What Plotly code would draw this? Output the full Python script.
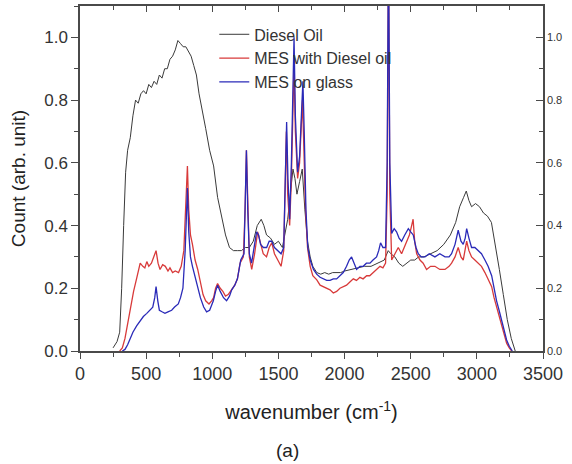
import plotly.graph_objects as go

# ---------------- data ----------------
diesel_wn = [250, 280, 300, 315, 330, 345, 360, 380, 400, 420, 440, 460, 480, 500, 520, 540, 560, 580, 600, 620,
             640, 660, 680, 700, 720, 740, 760, 780, 800, 820, 840, 860, 880, 900, 920, 950, 980, 1010, 1040, 1070,
             1100, 1130, 1160, 1190, 1220, 1250, 1280, 1310, 1340, 1370, 1390, 1410, 1440, 1470, 1500, 1530, 1555,
             1570, 1590, 1610, 1625, 1640, 1660, 1680, 1700, 1720, 1740, 1760, 1790, 1820, 1850, 1880, 1910, 1940,
             1970, 2000, 2050, 2100, 2150, 2200, 2250, 2300, 2330, 2350, 2380, 2410, 2440, 2470, 2500, 2530, 2560,
             2600, 2650, 2700, 2750, 2800, 2840, 2870, 2900, 2920, 2940, 2960, 2990, 3020, 3050, 3080, 3110, 3140,
             3170, 3200, 3230, 3260, 3290]
diesel_val = [0.01, 0.03, 0.06, 0.2, 0.4, 0.57, 0.64, 0.68, 0.75, 0.8, 0.79, 0.82, 0.83, 0.82, 0.85, 0.84, 0.86, 0.85,
              0.88, 0.87, 0.9, 0.9, 0.93, 0.94, 0.96, 0.99, 0.98, 0.97, 0.97, 0.955, 0.94, 0.91, 0.88, 0.82, 0.78,
              0.71, 0.64, 0.59, 0.49, 0.43, 0.37, 0.33, 0.32, 0.32, 0.32, 0.33, 0.33, 0.35, 0.40, 0.42, 0.40, 0.37,
              0.36, 0.34, 0.35, 0.33, 0.38, 0.42, 0.5, 0.58, 0.55, 0.5, 0.54, 0.58, 0.45, 0.35, 0.3, 0.27, 0.25,
              0.245, 0.25, 0.245, 0.25, 0.25, 0.25, 0.255, 0.26, 0.265, 0.27, 0.27, 0.28, 0.29, 0.32, 0.31, 0.30,
              0.28, 0.27, 0.28, 0.29, 0.29, 0.30, 0.30, 0.31, 0.32, 0.34, 0.37, 0.41, 0.46, 0.49, 0.51, 0.48, 0.46,
              0.47, 0.46, 0.44, 0.43, 0.41, 0.34, 0.26, 0.18, 0.1, 0.04, 0.0]

mes_diesel_wn = [300, 320, 340, 365, 385, 405, 430, 455, 475, 490, 505, 520, 540, 560, 575, 590, 605, 625, 645, 665,
                 680, 700, 720, 745, 765, 785, 800, 812, 822, 835, 850, 870, 890, 910, 930, 950, 975, 995, 1010, 1025,
                 1040, 1060, 1080, 1100, 1120, 1145, 1170, 1190, 1210, 1235, 1248, 1258, 1268, 1280, 1298, 1320, 1343,
                 1360, 1385, 1410, 1430, 1450, 1470, 1495, 1520, 1540, 1552, 1560, 1570, 1585, 1598, 1610, 1618, 1628,
                 1645, 1660, 1672, 1682, 1692, 1705, 1720, 1740, 1760, 1790, 1815, 1840, 1865, 1890, 1915, 1940, 1965,
                 1990, 2015, 2040, 2066, 2090, 2116, 2140, 2167, 2190, 2217, 2240, 2268, 2290, 2310, 2322, 2332, 2342,
                 2356, 2381, 2406, 2431, 2450, 2469, 2490, 2507, 2518, 2530, 2545, 2570, 2594, 2620, 2650, 2683, 2720,
                 2759, 2790, 2809, 2835, 2859, 2880, 2897, 2912, 2923, 2940, 2960, 2985, 3010, 3035, 3061, 3085, 3112,
                 3130, 3149, 3168, 3187, 3205, 3225, 3245, 3263]
mes_diesel_val = [0.0, 0.01, 0.04, 0.1, 0.15, 0.19, 0.235, 0.28, 0.27, 0.265, 0.285, 0.27, 0.28, 0.30, 0.32, 0.28,
                  0.26, 0.275, 0.27, 0.255, 0.265, 0.25, 0.255, 0.25, 0.27, 0.32, 0.45, 0.59, 0.45, 0.37, 0.34, 0.29,
                  0.26, 0.22, 0.18, 0.16, 0.15, 0.16, 0.17, 0.2, 0.215, 0.2, 0.19, 0.175, 0.18, 0.195, 0.21, 0.23,
                  0.28, 0.30, 0.45, 0.64, 0.45, 0.30, 0.26, 0.31, 0.38, 0.35, 0.31, 0.30, 0.33, 0.345, 0.31, 0.29,
                  0.27, 0.32, 0.60, 0.70, 0.50, 0.40, 0.55, 0.85, 0.92, 0.70, 0.55, 0.60, 0.72, 0.80, 0.65, 0.45, 0.33,
                  0.27, 0.24, 0.227, 0.21, 0.205, 0.2, 0.195, 0.185, 0.19, 0.2, 0.205, 0.21, 0.22, 0.23, 0.225, 0.235,
                  0.23, 0.24, 0.24, 0.25, 0.26, 0.27, 0.265, 0.28, 0.5, 1.3, 0.5, 0.29, 0.31, 0.33, 0.31, 0.33, 0.35,
                  0.37, 0.40, 0.42, 0.35, 0.31, 0.29, 0.28, 0.26, 0.27, 0.27, 0.26, 0.26, 0.27, 0.28, 0.30, 0.33,
                  0.30, 0.29, 0.32, 0.35, 0.32, 0.30, 0.29, 0.28, 0.27, 0.25, 0.23, 0.205, 0.17, 0.14, 0.11, 0.076,
                  0.05, 0.025, 0.01, 0.0]

mes_glass_wn = [320, 340, 360, 378, 400, 428, 455, 479, 505, 529, 550, 565, 575, 588, 600, 620, 642, 665, 693, 715,
                743, 760, 778, 795, 812, 822, 835, 850, 869, 890, 910, 935, 957, 980, 1008, 1025, 1040, 1060, 1085,
                1108, 1130, 1147, 1170, 1190, 1215, 1240, 1250, 1258, 1268, 1280, 1297, 1318, 1335, 1350, 1365, 1386,
                1411, 1430, 1449, 1470, 1495, 1520, 1540, 1552, 1562, 1572, 1585, 1598, 1610, 1618, 1628, 1645, 1660,
                1672, 1685, 1695, 1708, 1722, 1740, 1765, 1789, 1815, 1839, 1865, 1890, 1915, 1940, 1965, 1990, 2015,
                2035, 2053, 2070, 2091, 2116, 2141, 2165, 2192, 2215, 2242, 2258, 2272, 2290, 2310, 2322, 2332, 2342,
                2356, 2375, 2393, 2412, 2431, 2455, 2482, 2500, 2519, 2540, 2557, 2580, 2608, 2640, 2683, 2720, 2759,
                2790, 2809, 2835, 2859, 2880, 2897, 2912, 2923, 2940, 2960, 2985, 3010, 3035, 3061, 3085, 3112, 3130,
                3149, 3168, 3187, 3205, 3225, 3245, 3268]
mes_glass_val = [0.0, 0.005, 0.02, 0.04, 0.06, 0.08, 0.095, 0.11, 0.12, 0.13, 0.14, 0.17, 0.205, 0.16, 0.13, 0.125,
                 0.12, 0.125, 0.13, 0.14, 0.15, 0.17, 0.2, 0.32, 0.52, 0.38, 0.30, 0.27, 0.24, 0.20, 0.17, 0.14,
                 0.125, 0.13, 0.16, 0.19, 0.21, 0.19, 0.17, 0.16, 0.175, 0.195, 0.21, 0.23, 0.29, 0.31, 0.45, 0.64,
                 0.45, 0.31, 0.28, 0.33, 0.38, 0.37, 0.34, 0.33, 0.33, 0.35, 0.35, 0.33, 0.32, 0.31, 0.33, 0.62, 0.73,
                 0.55, 0.42, 0.60, 0.90, 1.0, 0.75, 0.57, 0.62, 0.75, 0.86, 0.70, 0.45, 0.33, 0.29, 0.26, 0.245,
                 0.235, 0.23, 0.225, 0.225, 0.23, 0.23, 0.24, 0.25, 0.27, 0.29, 0.30, 0.28, 0.26, 0.27, 0.27, 0.28,
                 0.28, 0.29, 0.30, 0.32, 0.345, 0.33, 0.33, 0.6, 1.3, 0.6, 0.375, 0.39, 0.38, 0.36, 0.35, 0.37, 0.39,
                 0.38, 0.37, 0.33, 0.31, 0.30, 0.30, 0.31, 0.30, 0.31, 0.30, 0.30, 0.31, 0.34, 0.385, 0.35, 0.34,
                 0.36, 0.39, 0.36, 0.33, 0.33, 0.32, 0.31, 0.29, 0.27, 0.24, 0.20, 0.16, 0.13, 0.10, 0.07, 0.035,
                 0.015, 0.0]

series_names = ["Diesel Oil", "MES with Diesel oil", "MES on glass"]
series_colors = ["#3a3a3a", "#d83a3a", "#2a2ab8"]
series_widths = [1.0, 1.3, 1.3]

x_ticks = [0, 500, 1000, 1500, 2000, 2500, 3000, 3500]
y_ticks = [0.0, 0.2, 0.4, 0.6, 0.8, 1.0]
y_ticklabels = ["0.0", "0.2", "0.4", "0.6", "0.8", "1.0"]

# ---------------- figure ----------------
fig = go.Figure()
for wn, val, name, col, w in zip([diesel_wn, mes_diesel_wn, mes_glass_wn],
                                 [diesel_val, mes_diesel_val, mes_glass_val],
                                 series_names, series_colors, series_widths):
    fig.add_trace(go.Scatter(x=wn, y=val, mode="lines", name=name,
                             line=dict(color=col, width=w)))

# invisible helper trace for the mirrored top/right axes
fig.add_trace(go.Scatter(x=[0, 3500], y=[0, 1.1], xaxis="x2", yaxis="y2", mode="lines",
                         line=dict(width=0), hoverinfo="skip", showlegend=False))

font_family = "Liberation Sans, Arial, sans-serif"
axis_col = "#4a4a4a"

fig.update_layout(
    width=572, height=464,
    margin=dict(l=80, r=29, t=6, b=113),
    paper_bgcolor="white", plot_bgcolor="white",
    font=dict(family=font_family, color="#333333"),
    showlegend=True,
    legend=dict(x=0.29, y=0.967, xanchor="left", yanchor="top",
                bgcolor="rgba(0,0,0,0)", font=dict(size=16, color="#333333"),
                itemwidth=30, tracegroupgap=0),
    xaxis=dict(range=[0, 3500], tickvals=x_ticks, ticks="outside", ticklen=6, tickwidth=1.2,
               tickcolor=axis_col, showline=True, linecolor=axis_col, linewidth=1.5,
               showgrid=False, zeroline=False, tickfont=dict(size=18, color="#333333"),
               minor=dict(dtick=250, ticks="outside", ticklen=4, tickcolor=axis_col, tickwidth=1),
               title=dict(text="wavenumber (cm<sup>-1</sup>)", font=dict(size=20, color="#222222"),
                          standoff=22)),
    yaxis=dict(range=[0, 1.1], tickvals=y_ticks, ticktext=y_ticklabels, ticks="outside", ticklen=7,
               tickwidth=1.2, tickcolor=axis_col, showline=True, linecolor=axis_col, linewidth=1.5,
               showgrid=False, zeroline=False, tickfont=dict(size=17, color="#333333"),
               minor=dict(dtick=0.1, ticks="outside", ticklen=4, tickcolor=axis_col, tickwidth=1),
               title=dict(text="Count (arb. unit)", font=dict(size=19, color="#222222"), standoff=14)),
    xaxis2=dict(range=[0, 3500], overlaying="x", side="top", anchor="y2", tickvals=x_ticks,
                ticks="inside", ticklen=6, tickwidth=1.2, tickcolor=axis_col, showticklabels=False,
                showline=True, linecolor=axis_col, linewidth=1.5, showgrid=False, zeroline=False,
                minor=dict(dtick=250, ticks="inside", ticklen=4, tickcolor=axis_col, tickwidth=1)),
    yaxis2=dict(range=[0, 1.1], overlaying="y", side="right", anchor="x2", tickvals=y_ticks,
                ticktext=y_ticklabels, ticks="inside", ticklen=7, tickwidth=1.2, tickcolor=axis_col,
                showline=True, linecolor=axis_col, linewidth=1.5, showgrid=False, zeroline=False,
                tickfont=dict(size=11, color="#333333"),
                minor=dict(dtick=0.1, ticks="inside", ticklen=4, tickcolor=axis_col, tickwidth=1)),
    annotations=[dict(text="(a)", xref="paper", yref="paper", x=0.449, y=-0.288,
                      xanchor="center", yanchor="middle", showarrow=False,
                      font=dict(size=19, color="#222222"))],
)

fig.write_html("out.html")
